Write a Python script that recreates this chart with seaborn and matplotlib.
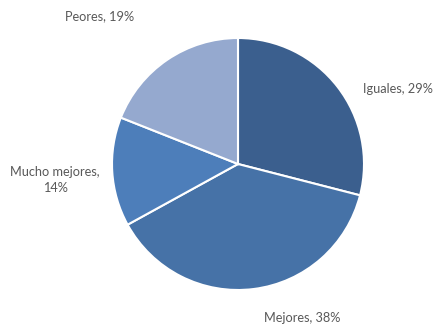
import matplotlib
matplotlib.use("Agg")
import matplotlib.pyplot as plt
import seaborn as sns

sns.set_theme(style="white")
plt.rcParams["font.family"] = ["Lato", "DejaVu Sans"]

categories = ["Iguales", "Mejores", "Mucho mejores", "Peores"]
shares = [29, 38, 14, 19]
label_texts = ["Iguales, 29%", "Mejores, 38%", "Mucho mejores,\n14%", "Peores, 19%"]
colors = ["#3B5F8E", "#4672A7", "#4D7EBA", "#95A9CF"]

# label anchor points (data units, pie radius = 1)
label_xy = [(1.27, 0.595), (0.508, -1.222), (-1.452, -0.127), (-1.095, 1.175)]

fig = plt.figure(figsize=(4.35, 3.24), dpi=100)
ax = fig.add_axes([0, 0, 1, 1])
ax.pie(shares, colors=colors, startangle=90, counterclock=False, radius=1,
       wedgeprops=dict(edgecolor="white", linewidth=1.5))
for txt, (x, y) in zip(label_texts, label_xy):
    ax.text(x, y, txt, ha="center", va="center", fontsize=9.2,
            color="#595959", linespacing=1.45)
ax.set_xlim(-238 / 126, (435 - 238) / 126)
ax.set_ylim(-160 / 126, 164 / 126)
ax.set_aspect("equal", adjustable="datalim")
ax.axis("off")
fig.savefig("out.png", dpi=100, facecolor="white")
